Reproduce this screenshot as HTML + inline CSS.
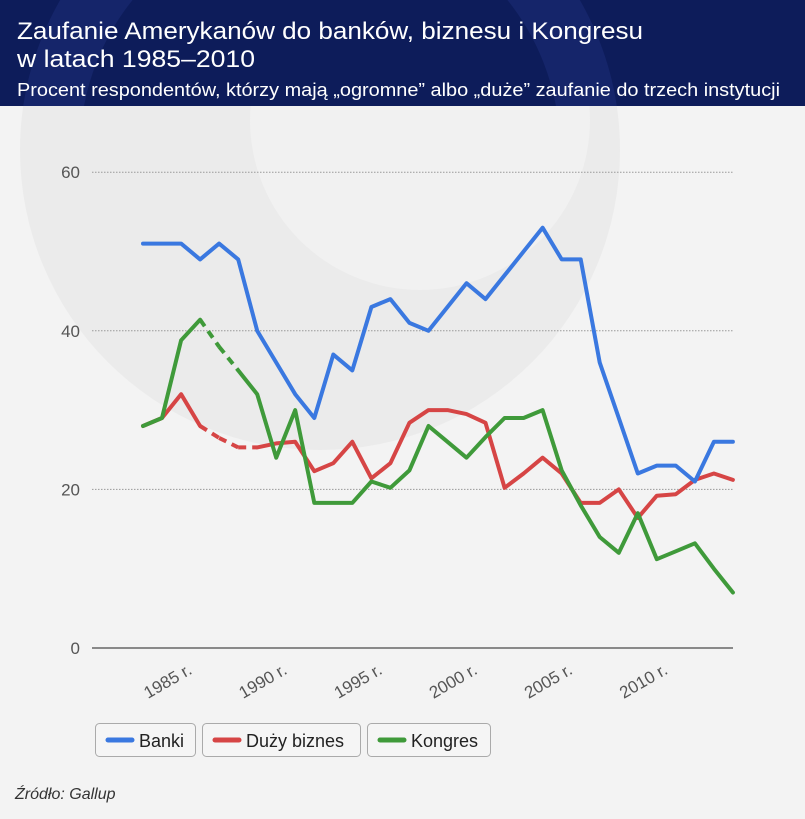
<!DOCTYPE html>
<html><head><meta charset="utf-8"><style>
html,body{margin:0;padding:0;background:#f3f3f3;}
svg{display:block;font-family:"Liberation Sans",sans-serif;}
</style></head><body>
<svg id="chart" width="805" height="819" viewBox="0 0 805 819">
<defs><clipPath id="hclip"><rect x="0" y="0" width="805" height="106"/></clipPath><clipPath id="bclip"><rect x="0" y="106" width="805" height="713"/></clipPath></defs>
<rect x="0" y="0" width="805" height="819" fill="#f3f3f3"/>
<g clip-path="url(#bclip)">
<circle cx="320" cy="150" r="300" fill="#ebebeb"/>
<circle cx="420" cy="120" r="170" fill="#f1f1f1"/>
</g>
<g>
<rect x="0" y="0" width="805" height="106" fill="#0d1c5a"/>
<g clip-path="url(#hclip)"><circle cx="320" cy="150" r="270" fill="none" stroke="#15256a" stroke-width="60"/></g>
<text x="17" y="39" fill="#fff" font-size="24" textLength="626" lengthAdjust="spacingAndGlyphs">Zaufanie Amerykanów do banków, biznesu i Kongresu</text>
<text x="17" y="67" fill="#fff" font-size="24" textLength="238" lengthAdjust="spacingAndGlyphs">w latach 1985–2010</text>
<text x="17" y="96" fill="#fff" font-size="18" textLength="763" lengthAdjust="spacingAndGlyphs">Procent respondentów, którzy mają „ogromne” albo „duże” zaufanie do trzech instytucji</text>
</g>
<g id="axes"></g>
<g id="series"></g>
<g>
<g>
<rect x="95.5" y="723.5" width="100" height="33" rx="4" fill="#f5f5f5" stroke="#aaa"/>
<line x1="108" y1="740" x2="132" y2="740" stroke="#3a78e0" stroke-width="5" stroke-linecap="round"/>
<text x="139" y="747" font-size="18" fill="#222">Banki</text></g>
<g>
<rect x="202.5" y="723.5" width="158" height="33" rx="4" fill="#f5f5f5" stroke="#aaa"/>
<line x1="215" y1="740" x2="239" y2="740" stroke="#d64545" stroke-width="5" stroke-linecap="round"/>
<text x="246" y="747" font-size="18" fill="#222">Duży biznes</text></g>
<g>
<rect x="367.5" y="723.5" width="123" height="33" rx="4" fill="#f5f5f5" stroke="#aaa"/>
<line x1="380" y1="740" x2="404" y2="740" stroke="#3f9a3a" stroke-width="5" stroke-linecap="round"/>
<text x="411" y="747" font-size="18" fill="#222">Kongres</text></g>
</g>
<text x="15" y="799" font-size="16" font-style="italic" fill="#333">Źródło: Gallup</text>
</svg>
<script>
const years = [1983,1984,1985,1986,1987,1988,1989,1990,1991,1992,1993,1994,1995,1996,1997,1998,1999,2000,2001,2002,2003,2004,2005,2006,2007,2008,2009,2010,2011,2012,2013,2014];
const banki = [51,51,51,49,51,49,40,36,32,29,37,35,43,44,41,40,43,46,44,47,50,53,49,49,36,29,22,23,23,21,26,26];
const biznes = [28,29,32,28,26.5,25.3,25.3,25.8,26,22.3,23.3,26,21.4,23.3,28.4,30,30,29.5,28.4,20.2,22,24,22,18.3,18.3,20,16.4,19.2,19.4,21.2,22,21.2];
const kongres = [28,29,38.8,41.4,38,35,32,24,30,18.3,18.3,18.3,21,20.2,22.4,28,26,24,26.6,29,29,30,22.4,18,14,12,17,11.2,12.2,13.2,10,7];
const bizDashed = [1986,1989];
const kongDashed = [1986,1988];
const yTicks = [0,20,40,60];
const xTickYears = [1985,1990,1995,2000,2005,2010];
const xTickLabels = ["1985 r.","1990 r.","1995 r.","2000 r.","2005 r.","2010 r."];
const NS="http://www.w3.org/2000/svg";
const X = y => 143 + (y-1983)*19.03;
const Y = v => 648 - v*7.93;
const axes=document.getElementById('axes'), series=document.getElementById('series');
function mk(tag,attrs,parent){const e=document.createElementNS(NS,tag);for(const k in attrs)e.setAttribute(k,attrs[k]);parent.appendChild(e);return e;}
yTicks.forEach(t=>{
  const l=mk('line',{x1:92,x2:733,y1:Y(t),y2:Y(t),stroke:t===0?'#666':'#999','stroke-width':t===0?1.5:1,'stroke-dasharray':t===0?'none':'1.5 1.5'},axes);
  
  
  const tx=mk('text',{x:80,y:Y(t)+6,'text-anchor':'end','font-size':17,fill:'#555'},axes);
  tx.textContent=t;
  
  
});
xTickYears.forEach((yr,i)=>{
  const x=X(yr)+12, y=673;
  const tx=mk('text',{x:x,y:y,'text-anchor':'end','font-size':17,fill:'#555',transform:`rotate(-30 ${x} ${y})`},axes);
  tx.textContent=xTickLabels[i];
  
  
});
function draw(vals,color,dash,name){
  let solid='', dashed='';
  for(let i=0;i<years.length;i++){
    const p=`${X(years[i]).toFixed(1)},${Y(vals[i]).toFixed(1)}`;
    const inDash = dash && i>0 && years[i-1]>=dash[0] && years[i]<=dash[1];
    if(i===0){solid+='M'+p;continue;}
    const prev=`${X(years[i-1]).toFixed(1)},${Y(vals[i-1]).toFixed(1)}`;
    if(inDash){dashed+='M'+prev+'L'+p;solid+='M'+p;}
    else solid+='L'+p;
  }
  const s=mk('path',{d:solid,fill:'none',stroke:color,'stroke-width':4,'stroke-linejoin':'round','stroke-linecap':'round'},series);
  
  
  if(dashed){
    const d=mk('path',{d:dashed,fill:'none',stroke:color,'stroke-width':4,'stroke-dasharray':'8 6'},series);
    
    
  }
}
draw(biznes,'#d64545',bizDashed,'duzy-biznes');
draw(kongres,'#3f9a3a',kongDashed,'kongres');
draw(banki,'#3a78e0',null,'banki');
</script>
</body></html>
